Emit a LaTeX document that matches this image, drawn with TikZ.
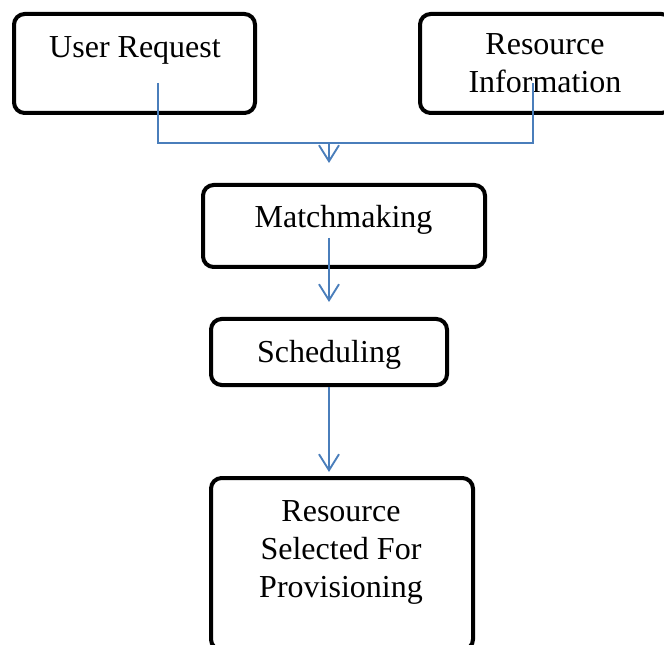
\documentclass[tikz,border=0pt]{standalone}
\usepackage{fontspec}
\setmainfont{Liberation Serif}
\usetikzlibrary{arrows.meta,calc}
\definecolor{linkblue}{RGB}{74,126,187}
\tikzset{
  box/.style={draw=black, line width=3pt, rounded corners=8pt, fill=white, inner sep=0pt},
  % base anchor of a multi-line label sits on its last line
  txt/.style={font=\fontsize{24}{28.5}\selectfont, align=center, inner sep=0pt, anchor=base},
  link/.style={draw=linkblue, line width=1.4pt},
  arr/.style={link, -{Straight Barb[length=12pt, width=15pt]}}
}
\begin{document}
\begin{tikzpicture}[x=0.75pt, y=-0.75pt]
  \useasboundingbox (0,0) rectangle (664,645);
  \clip (0,0) rectangle (664,645);

  % boxes
  \node[box, minimum width=241*0.75pt, minimum height=99*0.75pt] (ur) at (134.5,63.5) {};
  \node[box, minimum width=252*0.75pt, minimum height=99*0.75pt] (ri) at (546,63.5) {};
  \node[box, minimum width=282*0.75pt, minimum height=82*0.75pt] (mm) at (344,226) {};
  \node[box, minimum width=236*0.75pt, minimum height=66*0.75pt] (sch) at (329,352) {};
  \node[box, minimum width=262*0.75pt, minimum height=172*0.75pt] (res) at (342,564) {};

  % labels
  \node[txt] (urText) at (135,58) {User Request};
  \node[txt] (riText) at (545,93) {Resource\\Information};
  \node[txt] (mmText) at (343.5,228) {Matchmaking};
  \node[txt] (schText) at (329,362) {Scheduling};
  \node[txt] (resText) at (341,597) {Resource\\Selected For\\Provisioning};

  % connector ends inside the boxes
  \coordinate (urOut) at (158,83);
  \coordinate (riOut) at (533,83);
  \coordinate (join) at (329,143);
  \coordinate (mmOut) at (329,238);

  % merging connector and arrows
  \draw[link] (urOut) |- (join) -- (join -| riOut) -- (riOut);
  \draw[arr] (join) -- ($(join |- mm.north)+(0,-20)$);
  \draw[arr] (mmOut) -- ($(mmOut |- sch.north)+(0,-15)$);
  \draw[arr] (sch.south) -- ($(sch.south |- res.north)+(0,-4)$);
\end{tikzpicture}
\end{document}
